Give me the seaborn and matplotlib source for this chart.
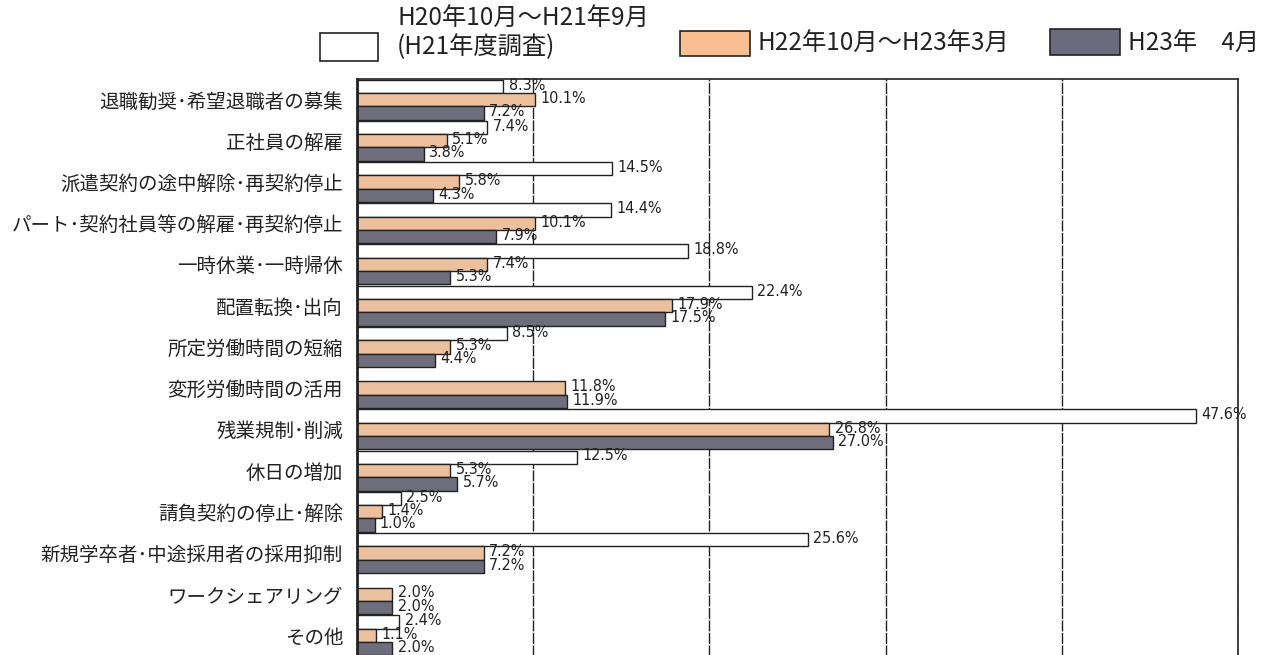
import matplotlib
matplotlib.use("Agg")
import matplotlib.pyplot as plt
from matplotlib.patches import Patch
import numpy as np
import pandas as pd
import seaborn as sns

# Measures taken by companies (share of respondents, %)
categories = [
    "退職勧奨･希望退職者の募集",
    "正社員の解雇",
    "派遣契約の途中解除･再契約停止",
    "パート･契約社員等の解雇･再契約停止",
    "一時休業･一時帰休",
    "配置転換･出向",
    "所定労働時間の短縮",
    "変形労働時間の活用",
    "残業規制･削減",
    "休日の増加",
    "請負契約の停止･解除",
    "新規学卒者･中途採用者の採用抑制",
    "ワークシェアリング",
    "その他",
]
period_labels = [
    "H20年10月～H21年9月\n(H21年度調査)",
    "H22年10月～H23年3月",
    "H23年　4月",
]
values_h21 = [8.3, 7.4, 14.5, 14.4, 18.8, 22.4, 8.5, np.nan, 47.6, 12.5, 2.5, 25.6, np.nan, 2.4]
values_h22 = [10.1, 5.1, 5.8, 10.1, 7.4, 17.9, 5.3, 11.8, 26.8, 5.3, 1.4, 7.2, 2.0, 1.1]
values_h23 = [7.2, 3.8, 4.3, 7.9, 5.3, 17.5, 4.4, 11.9, 27.0, 5.7, 1.0, 7.2, 2.0, 2.0]

colors = ["#FFFFFF", "#F9BF90", "#6B6B7D"]

series = [values_h21, values_h22, values_h23]
df = pd.DataFrame({
    "category": np.tile(categories, 3),
    "period": np.repeat(period_labels, len(categories)),
    "value": np.concatenate(series),
})

sns.set_style("white")
plt.rcParams["font.family"] = ["Noto Sans CJK JP", "DejaVu Sans"]

W, H = 1264, 655
fig = plt.figure(figsize=(W / 100, H / 100), dpi=100)
ax = fig.add_axes([357 / W, -1 / H, 881 / W, (H + 1 - 79) / H])

sns.barplot(
    data=df, y="category", x="value", hue="period",
    hue_order=period_labels, order=categories,
    palette=colors, orient="h", width=0.97,
    edgecolor="#222222", linewidth=1.0, legend=False, ax=ax,
    errorbar=None,
)

ax.set_xlim(0, 50)
ax.set_ylim(len(categories) - 0.5, -0.5)
ax.set_xticks([10, 20, 30, 40, 50])
ax.set_xticklabels([])
ax.tick_params(axis="x", length=0)
ax.tick_params(axis="y", length=0, pad=10, labelsize=14, labelcolor="#222222")
ax.grid(axis="x", color="#222222", linewidth=1.0, linestyle=(0, (8, 1)))
ax.set_axisbelow(True)
ax.set_xlabel("")
ax.set_ylabel("")
for side, sp in ax.spines.items():
    sp.set_visible(True)
    sp.set_color("#222222")
    sp.set_linewidth(1.2)
ax.spines["left"].set_linewidth(2.0)

# value labels at the end of each bar
bar_w = 0.97 / 3
for k, vals in enumerate(series):
    for i, v in enumerate(vals):
        if np.isnan(v):
            continue
        y = i + (k - 1) * bar_w
        ax.text(v + 0.3, y - 0.03, f"{v:.1f}%", va="center", ha="left",
                fontsize=11.5, family="DejaVu Sans", fontstretch="condensed",
                color="#222222")

# legend entries placed individually across the top
legend_specs = [
    ("", colors[0], (320 / W, 1 - 47 / H), 2.4, 1.45),
    (period_labels[1], colors[1], (680 / W, 1 - 44 / H), 2.9, 1.2),
    (period_labels[2], colors[2], (1050 / W, 1 - 43 / H), 2.9, 1.25),
]
for label, col, (lx, ly), hl, hh in legend_specs:
    handle = Patch(facecolor=col, edgecolor="#222222", linewidth=1.2)
    fig.legend([handle], [label], loc="center left", bbox_to_anchor=(lx, ly),
               frameon=False, fontsize=17.5, handlelength=hl, handleheight=hh,
               handletextpad=0.3, borderpad=0, borderaxespad=0,
               labelcolor="#222222")
fig.text(397 / W, 1 - 33 / H, period_labels[0], ha="left", va="center",
         fontsize=17.5, linespacing=1.1, color="#222222")

fig.savefig("out.png", dpi=100)
